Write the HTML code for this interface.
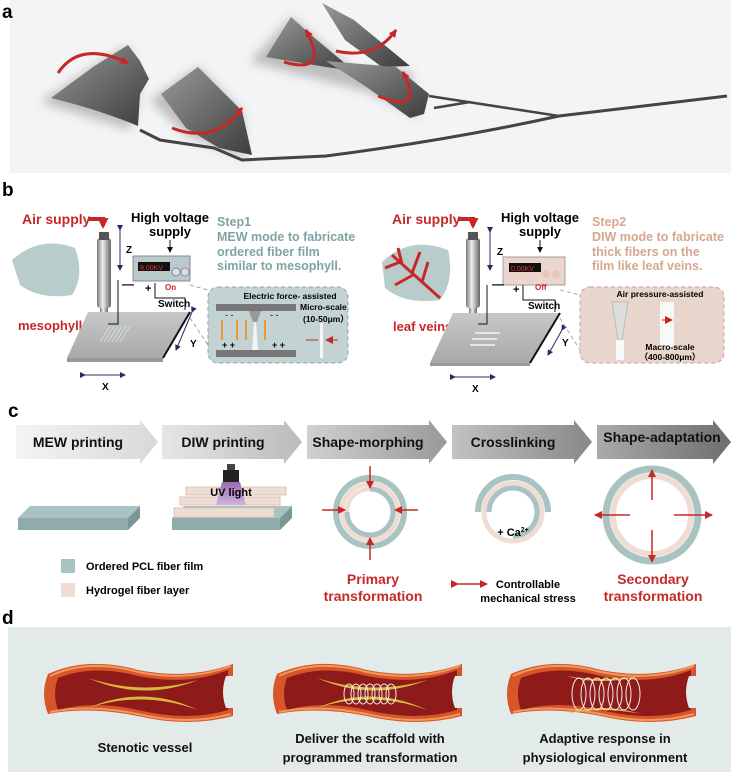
<!DOCTYPE html>
<html><head><meta charset="utf-8"><style>
body{margin:0;background:#fff;}
svg{display:block;font-family:"Liberation Sans",Arial,sans-serif;}
.b{font-weight:bold;}
</style></head><body>
<svg width="731" height="772" viewBox="0 0 731 772" xmlns="http://www.w3.org/2000/svg">
<defs>
<linearGradient id="leaf" x1="0" y1="0" x2="1" y2="1"><stop offset="0" stop-color="#9a9a9a"/><stop offset="1" stop-color="#3c3c3c"/></linearGradient>
<filter id="sh" x="-30%" y="-30%" width="160%" height="160%"><feGaussianBlur stdDeviation="5"/></filter>
<linearGradient id="syr" x1="0" x2="1"><stop offset="0" stop-color="#777"/><stop offset=".4" stop-color="#eee"/><stop offset="1" stop-color="#666"/></linearGradient>
<linearGradient id="plat" x1="0" y1="0" x2="0" y2="1"><stop offset="0" stop-color="#c8c8c8"/><stop offset="1" stop-color="#a8a8a8"/></linearGradient>
<linearGradient id="ar1" x1="0" x2="1"><stop offset="0" stop-color="#f4f4f4"/><stop offset="1" stop-color="#d8d8d8"/></linearGradient>
<linearGradient id="ar2" x1="0" x2="1"><stop offset="0" stop-color="#e6e6e6"/><stop offset="1" stop-color="#bbb"/></linearGradient>
<linearGradient id="ar3" x1="0" x2="1"><stop offset="0" stop-color="#d0d0d0"/><stop offset="1" stop-color="#999"/></linearGradient>
<linearGradient id="ar4" x1="0" x2="1"><stop offset="0" stop-color="#c2c2c2"/><stop offset="1" stop-color="#888"/></linearGradient>
<linearGradient id="ar5" x1="0" x2="1"><stop offset="0" stop-color="#aaa"/><stop offset="1" stop-color="#6e6e6e"/></linearGradient>
<linearGradient id="uv" x1="0" y1="0" x2="0" y2="1"><stop offset="0" stop-color="#9a6bb0"/><stop offset="1" stop-color="#cfb3dc"/></linearGradient>
<marker id="rh" markerUnits="userSpaceOnUse" markerWidth="8" markerHeight="8" refX="7" refY="4" orient="auto"><path d="M0,0 L8,4 L0,8z" fill="#c62828"/></marker>
<marker id="rb" markerUnits="userSpaceOnUse" markerWidth="11" markerHeight="11" refX="8" refY="5.5" orient="auto"><path d="M0,0 L11,5.5 L0,11z" fill="#c62828"/></marker>
<marker id="bh" markerUnits="userSpaceOnUse" markerWidth="6" markerHeight="6" refX="5" refY="3" orient="auto"><path d="M0,0 L6,3 L0,6z" fill="#2a2a6a"/></marker>
<marker id="kh" markerUnits="userSpaceOnUse" markerWidth="6" markerHeight="6" refX="5" refY="3" orient="auto"><path d="M0,0 L6,3 L0,6z" fill="#111"/></marker>
<g id="vessel">
<path d="M0,12 Q40,-6 90,8 Q140,18 185,2 L185,54 Q140,66 90,54 Q40,44 0,52 Q-8,32 0,12z" fill="#d8542a"/>
<path d="M10,16 Q45,2 90,14 Q140,24 180,8 L180,48 Q140,60 90,48 Q45,38 10,48 Q4,32 10,16z" fill="#8e1a1a"/>
<path d="M2,14 Q40,-4 90,10 Q140,20 183,4" fill="none" stroke="#f09a5a" stroke-width="2"/>
<path d="M2,50 Q40,42 90,52 Q140,64 183,52" fill="none" stroke="#f09a5a" stroke-width="2"/>
<path d="M178,14 Q172,30 178,46 L187,46 L187,14z" fill="#e3eaea"/>
</g>
</defs>

<!-- Panel a -->
<rect x="10" y="0" width="721" height="173" fill="#f3f4f5"/>
<text x="2" y="18" class="b" font-size="19">a</text>
<g fill="#999" opacity="0.6" filter="url(#sh)">
<path d="M40,102 L93,67 L128,45 L140,90 L130,130z"/><path d="M150,100 L198,67 L242,111 L245,158 L186,135z"/><path d="M250,62 L291,17 L354,71 L410,70 L420,118 L368,92z"/></g>
<path d="M140,130 L160,140 L214,148 L242,160 L326,156 Q450,140 559,116 L727,96" fill="none" stroke="#444" stroke-width="3"/>
<path d="M429,96 L559,116 M434,108 L470,102" fill="none" stroke="#444" stroke-width="2.5"/>
<path d="M51,98 L93,67 L128,45 L140,61 L149,79 L140,94 L138,126 Q100,110 51,98z" fill="url(#leaf)"/>
<path d="M161,94 L198,67 L242,111 L252,155 L219,148 L186,128z" fill="url(#leaf)"/>
<path d="M266,57 L291,17 L317,40 L354,71 L326,67z" fill="url(#leaf)"/>
<path d="M322,3 L354,20 L410,66 L382,67 L345,40z" fill="url(#leaf)"/>
<path d="M326,61 L396,67 L429,94 L424,114 L410,118 L368,88z" fill="url(#leaf)"/>
<g fill="none" stroke="#c62828" stroke-width="3">
<path d="M58,73 Q80,40 128,63" marker-end="url(#rh)"/>
<path d="M172,128 Q215,145 242,108" marker-end="url(#rh)"/>
<path d="M284,62 Q330,75 306,30" marker-end="url(#rh)"/>
<path d="M336,51 Q375,60 396,30" marker-end="url(#rh)"/>
<path d="M378,96 Q425,115 403,72" marker-end="url(#rh)"/>
</g>

<!-- Panel b -->
<text x="2" y="196" class="b" font-size="19">b</text>
<path d="M12,260 Q40,235 75,248 Q85,275 72,295 Q40,300 20,285z" fill="#b9cccc"/>
<text x="18" y="330" class="b" font-size="13" fill="#c62828">mesophyll</text>
<text x="22" y="224" class="b" font-size="14" fill="#c62828">Air supply</text>
<path d="M88,219 L103,219 L103,226" fill="none" stroke="#c62828" stroke-width="4" marker-end="url(#rb)"/>
<rect x="97" y="238" width="14" height="70" rx="3" fill="url(#syr)"/>
<rect x="99" y="232" width="10" height="8" fill="#555"/>
<rect x="100" y="308" width="8" height="20" fill="url(#syr)"/>
<path d="M120,230 L120,270" stroke="#2a2a6a" marker-end="url(#bh)" marker-start="url(#bh)"/>
<text x="126" y="253" class="b" font-size="10">Z</text>
<text x="170" y="222" class="b" font-size="13" text-anchor="middle">High voltage</text>
<text x="170" y="236" class="b" font-size="13" text-anchor="middle">supply</text>
<path d="M170,240 L170,252" stroke="#111" marker-end="url(#kh)"/>
<rect x="133" y="256" width="57" height="25" fill="#b8caca" stroke="#889"/>
<rect x="138" y="262" width="32" height="9" fill="#111"/><text x="140" y="270" font-size="7" fill="#e33">8.00KV</text>
<circle cx="176" cy="272" r="4" fill="#dde" stroke="#889"/><circle cx="185" cy="272" r="4" fill="#dde" stroke="#889"/>
<text x="217" y="226" class="b" font-size="12.5" fill="#7fa3a3">Step1</text>
<text x="217" y="241" class="b" font-size="12.5" fill="#7fa3a3">MEW mode to fabricate</text>
<text x="217" y="256" class="b" font-size="12.5" fill="#7fa3a3">ordered fiber film</text>
<text x="217" y="270" class="b" font-size="12.5" fill="#7fa3a3">similar to mesophyll.</text>
<path d="M67,358 L88,312 L190,312 L163,358z" fill="url(#plat)"/>
<path d="M67,358 L163,358 L163,362 L67,362z" fill="#999"/>
<path d="M163,358 L190,312" stroke="#111" stroke-width="2"/>
<g stroke="#cfe0e0" stroke-width="1"><path d="M100,342 L110,326 M104,342 L114,326 M108,342 L118,326 M112,342 L122,326 M116,342 L126,326 M120,342 L130,326"/></g>
<path d="M118,280 L118,324 L108,324" fill="none" stroke="#111"/>
<text x="122" y="288" class="b" font-size="12">—</text>
<text x="145" y="292" class="b" font-size="11">+</text>
<path d="M155,283 L155,298 L185,298 L185,310" fill="none" stroke="#111"/>
<text x="165" y="290" font-size="8" fill="#c62828" class="b">On</text>
<text x="158" y="307" class="b" font-size="10">Switch</text>
<path d="M85,375 L125,375" stroke="#2a2a6a" marker-end="url(#bh)" marker-start="url(#bh)"/>
<text x="102" y="390" class="b" font-size="10">X</text>
<path d="M192,312 L176,350" stroke="#2a2a6a" marker-end="url(#bh)" marker-start="url(#bh)"/>
<text x="190" y="347" class="b" font-size="10">Y</text>
<path d="M190,285 L208,290 M190,318 L208,345" stroke="#8aa" stroke-dasharray="4,3"/>
<rect x="208" y="287" width="140" height="76" rx="10" fill="#c3d2d2" stroke="#8aa" stroke-dasharray="4,3"/>
<text x="290" y="299" class="b" font-size="8.5" text-anchor="middle">Electric force- assisted</text>
<rect x="216" y="304" width="80" height="7" fill="#777"/>
<text x="300" y="310" class="b" font-size="8.5">Micro-scale</text>
<text x="303" y="322" class="b" font-size="8.5">(10-50μm）</text>
<rect x="216" y="350" width="80" height="7" fill="#777"/>
<path d="M249,311 L261,311 L257,322 L253,322z" fill="#999"/>
<path d="M254,322 L256,322 L258,350 L252,350z" fill="#f4f4f4"/>
<text x="225" y="318" font-size="9">- -</text><text x="270" y="318" font-size="9">- -</text>
<text x="222" y="348" font-size="9" class="b">+ +</text><text x="272" y="348" font-size="9" class="b">+ +</text>
<g stroke="#e89a30" stroke-width="2"><path d="M222,320 L222,340 M237,320 L237,340 M246,320 L246,340 M265,320 L265,340"/></g>
<rect x="320" y="323" width="3" height="35" fill="#f5f5f5"/>
<path d="M306,340 L318,340 M338,340 L326,340" stroke="#c62828" marker-end="url(#rh)"/>

<path d="M382,262 Q410,235 448,250 Q455,280 440,300 Q405,305 385,288z" fill="#b9cccc"/>
<g stroke="#c62828" stroke-width="3" fill="none"><path d="M392,255 L440,298 M402,264 L398,248 M412,273 L420,252 M422,282 L428,262 M400,262 L385,268 M413,275 L395,285"/></g>
<text x="393" y="331" class="b" font-size="13" fill="#c62828">leaf veins</text>
<text x="392" y="224" class="b" font-size="14" fill="#c62828">Air supply</text>
<path d="M458,219 L473,219 L473,226" fill="none" stroke="#c62828" stroke-width="4" marker-end="url(#rb)"/>
<rect x="466" y="238" width="14" height="70" rx="3" fill="url(#syr)"/>
<rect x="468" y="232" width="10" height="8" fill="#555"/>
<rect x="469" y="308" width="8" height="20" fill="url(#syr)"/>
<path d="M490,232 L490,270" stroke="#2a2a6a" marker-end="url(#bh)" marker-start="url(#bh)"/>
<text x="497" y="255" class="b" font-size="10">Z</text>
<text x="540" y="222" class="b" font-size="13" text-anchor="middle">High voltage</text>
<text x="540" y="236" class="b" font-size="13" text-anchor="middle">supply</text>
<path d="M540,240 L540,252" stroke="#111" marker-end="url(#kh)"/>
<rect x="503" y="257" width="62" height="28" fill="#ead6cc" stroke="#a99"/>
<rect x="509" y="263" width="32" height="9" fill="#111"/><text x="511" y="271" font-size="7" fill="#e33">0.00KV</text>
<circle cx="546" cy="274" r="4" fill="#e8c8bc"/><circle cx="556" cy="274" r="4" fill="#e8c8bc"/>
<text x="592" y="226" class="b" font-size="12.5" fill="#d5a78e">Step2</text>
<text x="592" y="241" class="b" font-size="12.5" fill="#d5a78e">DIW mode to fabricate</text>
<text x="592" y="256" class="b" font-size="12.5" fill="#d5a78e">thick fibers on the</text>
<text x="592" y="270" class="b" font-size="12.5" fill="#d5a78e">film like leaf veins.</text>
<path d="M430,363 L453,313 L560,313 L530,363z" fill="url(#plat)"/>
<path d="M430,363 L530,363 L530,366 L430,366z" fill="#999"/>
<path d="M530,363 L560,313" stroke="#111" stroke-width="2"/>
<g stroke="#f4f4f4" stroke-width="1.5"><path d="M475,333 L500,333 M472,339 L497,339 M470,345 L495,345"/></g>
<path d="M487,285 L487,324 L478,324" fill="none" stroke="#111"/>
<text x="492" y="288" class="b" font-size="12">—</text>
<text x="513" y="293" class="b" font-size="11">+</text>
<path d="M523,285 L523,300 L555,300 L555,312" fill="none" stroke="#111"/>
<text x="535" y="290" font-size="8" fill="#c62828" class="b">Off</text>
<text x="528" y="309" class="b" font-size="10">Switch</text>
<path d="M455,377 L495,377" stroke="#2a2a6a" marker-end="url(#bh)" marker-start="url(#bh)"/>
<text x="472" y="392" class="b" font-size="10">X</text>
<path d="M562,330 L548,355" stroke="#2a2a6a" marker-end="url(#bh)" marker-start="url(#bh)"/>
<text x="562" y="346" class="b" font-size="10">Y</text>
<path d="M560,290 L580,295 M560,318 L580,350" stroke="#c9a" stroke-dasharray="4,3"/>
<rect x="580" y="287" width="144" height="76" rx="10" fill="#e8d6cc" stroke="#c9a" stroke-dasharray="4,3"/>
<text x="660" y="297" class="b" font-size="8.5" text-anchor="middle">Air pressure-assisted</text>
<path d="M612,302 L628,302 L622,340 L618,340z" fill="#ddd" stroke="#bbb"/>
<rect x="616" y="340" width="8" height="20" fill="#f8f8f8"/>
<rect x="660" y="302" width="14" height="46" fill="#f8f8f8"/>
<path d="M662,320 L672,320" stroke="#c62828" marker-end="url(#rh)"/>
<text x="670" y="350" class="b" font-size="8.5" text-anchor="middle">Macro-scale</text>
<text x="670" y="360" class="b" font-size="8.5" text-anchor="middle">（400-800μm）</text>

<!-- Panel c -->
<text x="8" y="417" class="b" font-size="19">c</text>
<path d="M16,425 L140,425 L140,420 L158,442 L140,464 L140,459 L16,459z" fill="url(#ar1)"/>
<path d="M162,425 L284,425 L284,420 L302,442 L284,464 L284,459 L162,459z" fill="url(#ar2)"/>
<path d="M307,425 L429,425 L429,420 L447,442 L429,464 L429,459 L307,459z" fill="url(#ar3)"/>
<path d="M452,425 L574,425 L574,420 L592,442 L574,464 L574,459 L452,459z" fill="url(#ar4)"/>
<path d="M597,425 L713,425 L713,420 L731,442 L713,464 L713,459 L597,459z" fill="url(#ar5)"/>
<g class="b" font-size="14" text-anchor="middle" fill="#111">
<text x="78" y="447">MEW printing</text><text x="223" y="447">DIW printing</text><text x="368" y="447">Shape-morphing</text><text x="513" y="447">Crosslinking</text><text x="662" y="442">Shape-adaptation</text></g>
<path d="M18,518 L30,506 L140,506 L128,518z" fill="#a9c2c2"/><rect x="18" y="518" width="110" height="12" fill="#8fabab"/><path d="M128,518 L140,506 L140,518 L128,530z" fill="#7a9696"/>
<path d="M172,518 L184,506 L292,506 L280,518z" fill="#a9c2c2"/><rect x="172" y="518" width="108" height="12" fill="#8fabab"/><path d="M280,518 L292,506 L292,518 L280,530z" fill="#7a9696"/>
<g fill="#efdcd3" stroke="#d8c4ba"><rect x="174" y="508" width="100" height="9"/><rect x="180" y="497" width="100" height="8"/><rect x="186" y="487" width="100" height="8"/></g>
<path d="M222,482 L240,482 L246,505 L216,505z" fill="url(#uv)"/>
<rect x="223" y="470" width="16" height="12" fill="#222"/><rect x="227" y="464" width="8" height="6" fill="#444"/>
<text x="231" y="496" class="b" font-size="11" text-anchor="middle">UV light</text>
<g fill="none">
<circle cx="370" cy="512" r="34" stroke="#a9c2c2" stroke-width="6"/>
<circle cx="370" cy="512" r="28" stroke="#efdcd3" stroke-width="5"/>
<path d="M370,489 A23,23 0 1 1 347,512" stroke="#a9c2c2" stroke-width="5"/>
<path d="M347,512 A23,23 0 0 1 370,489" stroke="#efdcd3" stroke-width="4"/>
</g>
<path d="M370,466 L370,488" stroke="#c62828" stroke-width="1.5" marker-end="url(#rh)"/>
<path d="M370,560 L370,538" stroke="#c62828" stroke-width="1.5" marker-end="url(#rh)"/>
<path d="M322,510 L345,510" stroke="#c62828" stroke-width="1.5" marker-end="url(#rh)"/>
<path d="M418,510 L395,510" stroke="#c62828" stroke-width="1.5" marker-end="url(#rh)"/>
<g fill="none">
<path d="M548,512 A35,35 0 1 0 478,512" stroke="#a9c2c2" stroke-width="6"/>
<circle cx="513" cy="512" r="29" stroke="#efdcd3" stroke-width="5"/>
<path d="M489,512 A24,24 0 1 1 537,512 A24,24 0 0 1 513,536" stroke="#a9c2c2" stroke-width="5"/>
</g>
<text x="513" y="536" class="b" font-size="11" text-anchor="middle">+ Ca<tspan font-size="7" dy="-4">2+</tspan></text>
<circle cx="652" cy="515" r="46" fill="none" stroke="#a9c2c2" stroke-width="7"/>
<circle cx="652" cy="515" r="39" fill="none" stroke="#efdcd3" stroke-width="6"/>
<path d="M652,500 L652,470" stroke="#c62828" stroke-width="1.5" marker-end="url(#rh)"/>
<path d="M652,530 L652,562" stroke="#c62828" stroke-width="1.5" marker-end="url(#rh)"/>
<path d="M630,515 L595,515" stroke="#c62828" stroke-width="1.5" marker-end="url(#rh)"/>
<path d="M674,515 L712,515" stroke="#c62828" stroke-width="1.5" marker-end="url(#rh)"/>
<rect x="61" y="559" width="14" height="14" fill="#a9c2c2"/><text x="86" y="570" class="b" font-size="11">Ordered PCL fiber film</text>
<rect x="61" y="583" width="14" height="14" fill="#efdcd3"/><text x="86" y="594" class="b" font-size="11">Hydrogel fiber layer</text>
<g class="b" font-size="14" fill="#c62828" text-anchor="middle">
<text x="373" y="584">Primary</text><text x="373" y="601">transformation</text>
<text x="653" y="584">Secondary</text><text x="653" y="601">transformation</text></g>
<path d="M458,584 L487,584" stroke="#c62828" stroke-width="1.5" marker-end="url(#rh)" marker-start="url(#rh)"/>
<text x="528" y="588" class="b" font-size="11" text-anchor="middle">Controllable</text>
<text x="528" y="602" class="b" font-size="11" text-anchor="middle">mechanical stress</text>

<!-- Panel d -->
<rect x="8" y="627" width="723" height="145" fill="#e3eaea"/>
<text x="2" y="624" class="b" font-size="19">d</text>
<g transform="translate(48,662)"><use href="#vessel"/>
<path d="M40,16 Q95,34 150,18 Q95,40 40,16z" fill="#d9b93a"/><path d="M40,46 Q95,28 150,48 Q95,22 40,46z" fill="#d9b93a"/></g>
<g transform="translate(277,662)"><use href="#vessel"/>
<path d="M40,16 Q95,34 150,18 Q95,40 40,16z" fill="#d9b93a"/><path d="M40,46 Q95,28 150,48 Q95,22 40,46z" fill="#d9b93a"/>
<g fill="none" stroke="#eee" stroke-width="1"><ellipse cx="72" cy="32" rx="5" ry="10"/><ellipse cx="79" cy="32" rx="5" ry="10"/><ellipse cx="86" cy="32" rx="5" ry="10"/><ellipse cx="93" cy="32" rx="5" ry="10"/><ellipse cx="100" cy="32" rx="5" ry="10"/><ellipse cx="107" cy="32" rx="5" ry="10"/><ellipse cx="114" cy="32" rx="5" ry="10"/></g></g>
<g transform="translate(511,662)"><use href="#vessel"/>
<path d="M55,14 Q90,20 130,14 Q90,24 55,14z" fill="#d9b93a"/><path d="M55,52 Q90,44 130,52 Q90,40 55,52z" fill="#d9b93a"/>
<g fill="none" stroke="#eee" stroke-width="1"><ellipse cx="68" cy="32" rx="7" ry="16"/><ellipse cx="77" cy="32" rx="7" ry="16"/><ellipse cx="86" cy="32" rx="7" ry="16"/><ellipse cx="95" cy="32" rx="7" ry="16"/><ellipse cx="104" cy="32" rx="7" ry="16"/><ellipse cx="113" cy="32" rx="7" ry="16"/><ellipse cx="122" cy="32" rx="7" ry="16"/></g></g>
<g class="b" font-size="13" text-anchor="middle" fill="#111">
<text x="145" y="752">Stenotic vessel</text>
<text x="370" y="743">Deliver the scaffold with</text><text x="370" y="762">programmed transformation</text>
<text x="605" y="743">Adaptive response in</text><text x="605" y="762">physiological environment</text></g>
</svg>
</body></html>
